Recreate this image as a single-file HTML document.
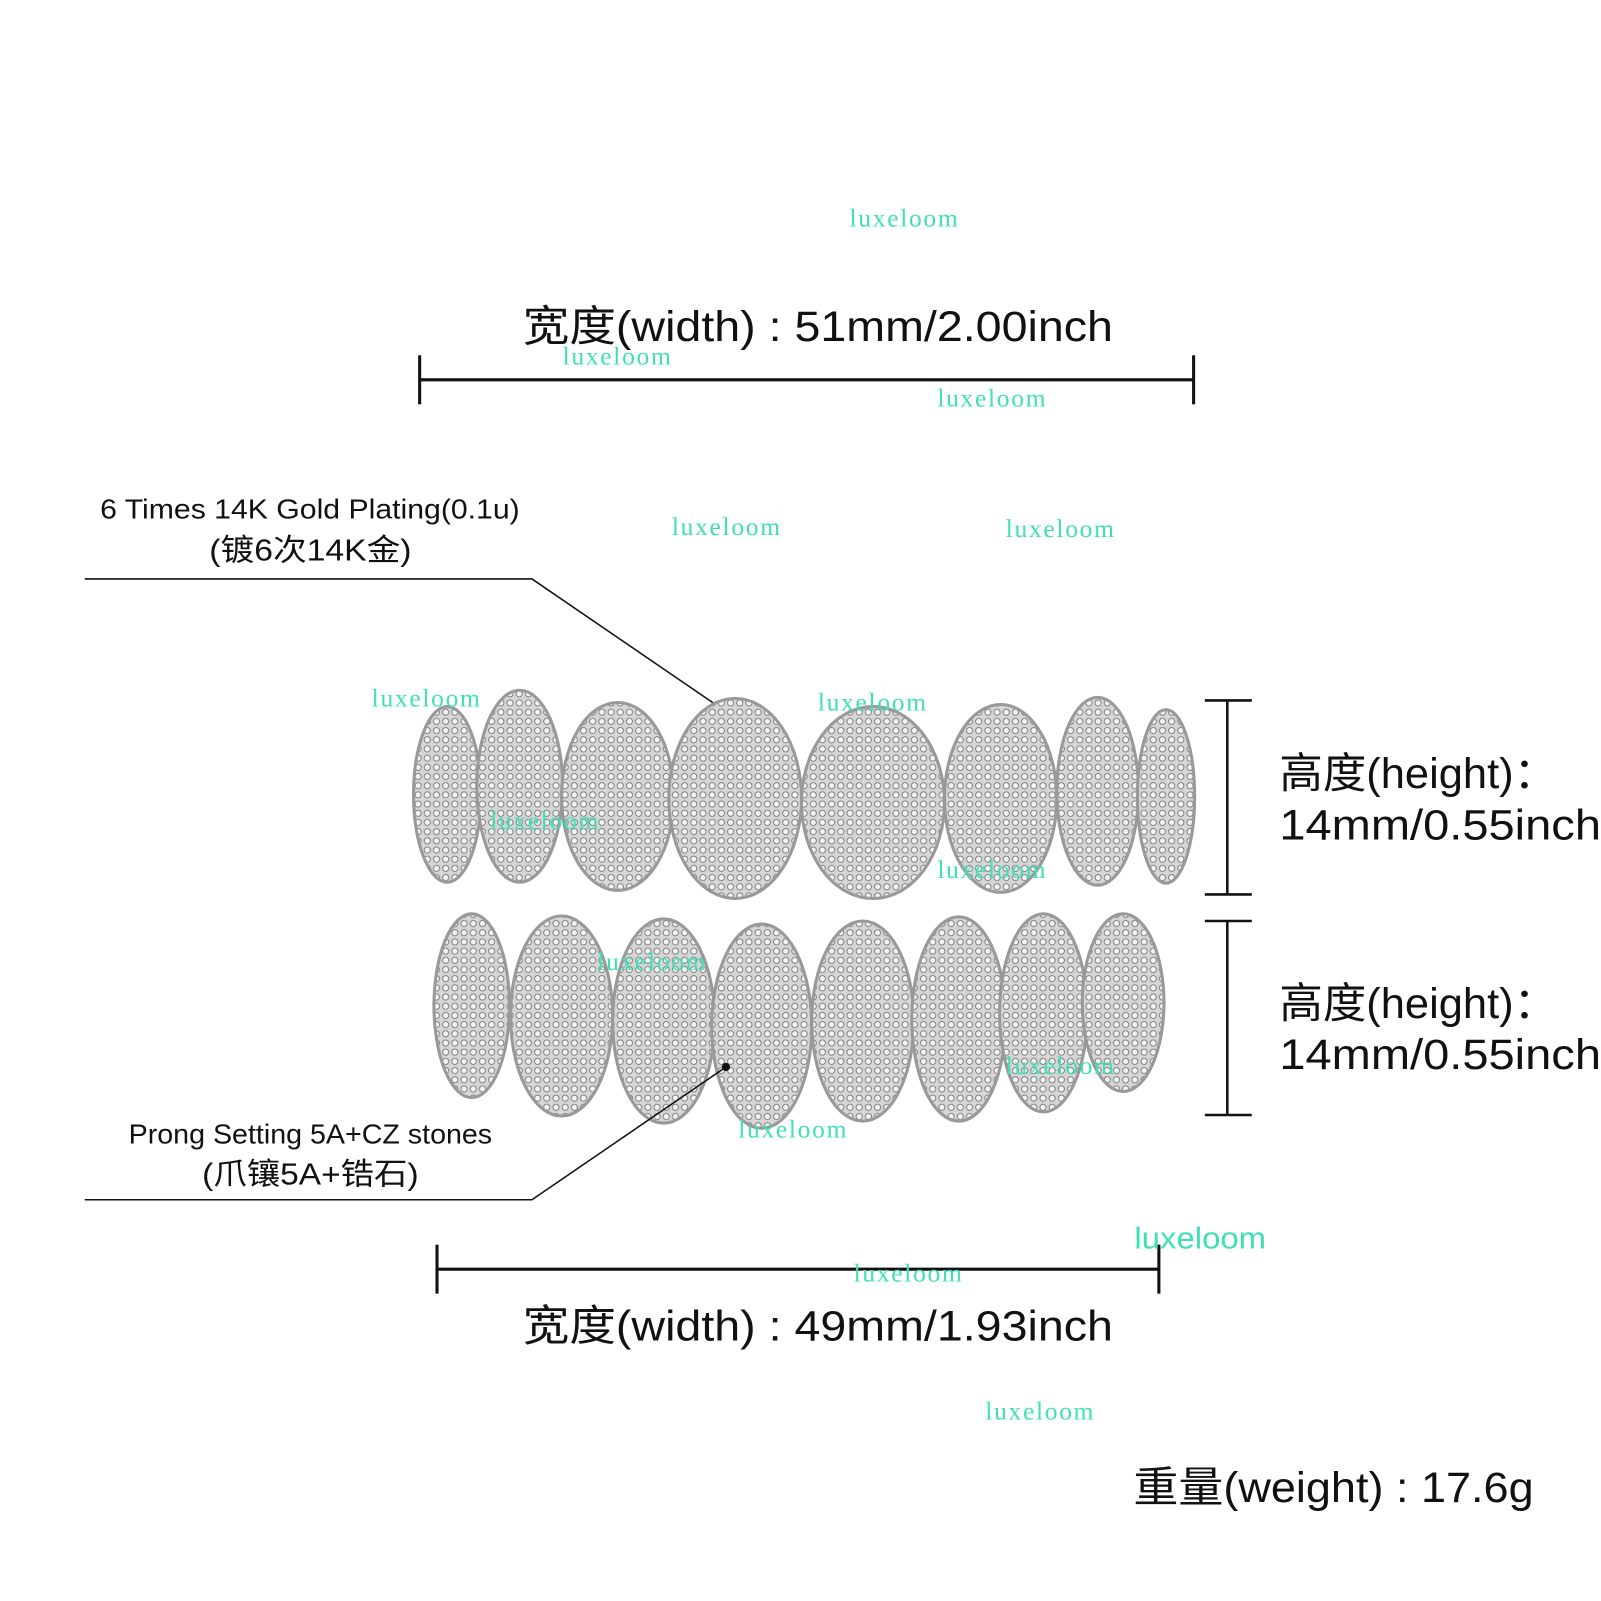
<!DOCTYPE html>
<html><head><meta charset="utf-8"><style>
html,body{margin:0;padding:0;background:#fff}
svg{display:block}
text{font-family:"Liberation Sans","Noto Sans CJK SC",sans-serif;fill:#111}
.wm{font-family:"Liberation Serif",serif;fill:#3fe0b8;font-size:25px}
</style></head><body>
<svg width="1601" height="1601" viewBox="0 0 1568 1568" xmlns="http://www.w3.org/2000/svg">
<defs>
<pattern id="pv" width="9" height="9" patternUnits="userSpaceOnUse">
<rect width="9" height="9" fill="#d6d6d6"/>
<circle cx="4.5" cy="4.5" r="3" fill="#f4f4f4" stroke="#777" stroke-width="0.9"/>
</pattern>
</defs>
<rect width="1568" height="1568" fill="#fff"/>
<text x="512" y="334" font-size="42" textLength="578" lengthAdjust="spacingAndGlyphs">宽度(width) : 51mm/2.00inch</text>
<g stroke="#111" stroke-width="3"><line x1="411" y1="372" x2="1169" y2="372"/><line x1="411" y1="348" x2="411" y2="396"/><line x1="1169" y1="348" x2="1169" y2="396"/></g>
<text x="98" y="508" font-size="27" textLength="411" lengthAdjust="spacingAndGlyphs">6 Times  14K  Gold  Plating(0.1u)</text>
<text x="205" y="549" font-size="30" textLength="198" lengthAdjust="spacingAndGlyphs">(镀6次14K金)</text>
<polyline points="83,567 521,567 711,697" fill="none" stroke="#111" stroke-width="1.5"/>
<circle cx="711" cy="697" r="4" fill="#111"/>
<g stroke="#999" stroke-width="3" fill="url(#pv)">
<ellipse cx="438" cy="778" rx="33" ry="86"/>
<ellipse cx="509" cy="770" rx="42" ry="94"/>
<ellipse cx="605" cy="780" rx="55" ry="92"/>
<ellipse cx="720" cy="782" rx="65" ry="98"/>
<ellipse cx="855" cy="786" rx="70" ry="94"/>
<ellipse cx="980" cy="782" rx="55" ry="92"/>
<ellipse cx="1075" cy="775" rx="40" ry="92"/>
<ellipse cx="1142" cy="780" rx="28" ry="85"/>
<ellipse cx="462" cy="985" rx="37" ry="90"/>
<ellipse cx="550" cy="995" rx="50" ry="98"/>
<ellipse cx="650" cy="1000" rx="50" ry="100"/>
<ellipse cx="746" cy="1005" rx="49" ry="100"/>
<ellipse cx="845" cy="1000" rx="50" ry="98"/>
<ellipse cx="939" cy="998" rx="46" ry="100"/>
<ellipse cx="1022" cy="992" rx="43" ry="97"/>
<ellipse cx="1100" cy="982" rx="40" ry="87"/>
</g>
<text x="126" y="1120" font-size="27" textLength="356" lengthAdjust="spacingAndGlyphs">Prong Setting 5A+CZ stones</text>
<text x="198" y="1160" font-size="30" textLength="212" lengthAdjust="spacingAndGlyphs">(爪镶5A+锆石)</text>
<polyline points="83,1175 521,1175 711,1045" fill="none" stroke="#111" stroke-width="1.5"/>
<circle cx="711" cy="1045" r="4" fill="#111"/>
<g stroke="#111" stroke-width="2.5">
<line x1="1202" y1="686" x2="1202" y2="876"/><line x1="1180" y1="686" x2="1226" y2="686"/><line x1="1180" y1="876" x2="1226" y2="876"/>
<line x1="1202" y1="902" x2="1202" y2="1092"/><line x1="1180" y1="902" x2="1226" y2="902"/><line x1="1180" y1="1092" x2="1226" y2="1092"/>
</g>
<text x="1253" y="772" font-size="42" textLength="272" lengthAdjust="spacingAndGlyphs">高度(height)：</text>
<text x="1253" y="822" font-size="42" textLength="315" lengthAdjust="spacingAndGlyphs">14mm/0.55inch</text>
<text x="1253" y="997" font-size="42" textLength="272" lengthAdjust="spacingAndGlyphs">高度(height)：</text>
<text x="1253" y="1047" font-size="42" textLength="315" lengthAdjust="spacingAndGlyphs">14mm/0.55inch</text>
<g stroke="#111" stroke-width="3"><line x1="428" y1="1243" x2="1135" y2="1243"/><line x1="428" y1="1219" x2="428" y2="1267"/><line x1="1135" y1="1219" x2="1135" y2="1267"/></g>
<text x="512" y="1313" font-size="42" textLength="578" lengthAdjust="spacingAndGlyphs">宽度(width) : 49mm/1.93inch</text>
<text x="1110" y="1471" font-size="42" textLength="392" lengthAdjust="spacingAndGlyphs">重量(weight) : 17.6g</text>
<g class="wm">
<text class="wm" x="832" y="222" textLength="106">luxeloom</text>
<text class="wm" x="551" y="357" textLength="106">luxeloom</text>
<text class="wm" x="918" y="398" textLength="106">luxeloom</text>
<text class="wm" x="658" y="524" textLength="106">luxeloom</text>
<text class="wm" x="985" y="526" textLength="106">luxeloom</text>
<text class="wm" x="364" y="692" textLength="106">luxeloom</text>
<text class="wm" x="801" y="696" textLength="106">luxeloom</text>
<text class="wm" x="480" y="812" textLength="106">luxeloom</text>
<text class="wm" x="918" y="860" textLength="106">luxeloom</text>
<text class="wm" x="585" y="950" textLength="106">luxeloom</text>
<text class="wm" x="985" y="1052" textLength="106">luxeloom</text>
<text class="wm" x="723" y="1114" textLength="106">luxeloom</text>
<text class="wm" x="836" y="1255" textLength="106">luxeloom</text>
<text class="wm" x="965" y="1390" textLength="106">luxeloom</text>
</g>
<text x="1111" y="1223" font-size="30" style="fill:#3fe0b8" textLength="129" lengthAdjust="spacingAndGlyphs">luxeloom</text>
</svg>
</body></html>
